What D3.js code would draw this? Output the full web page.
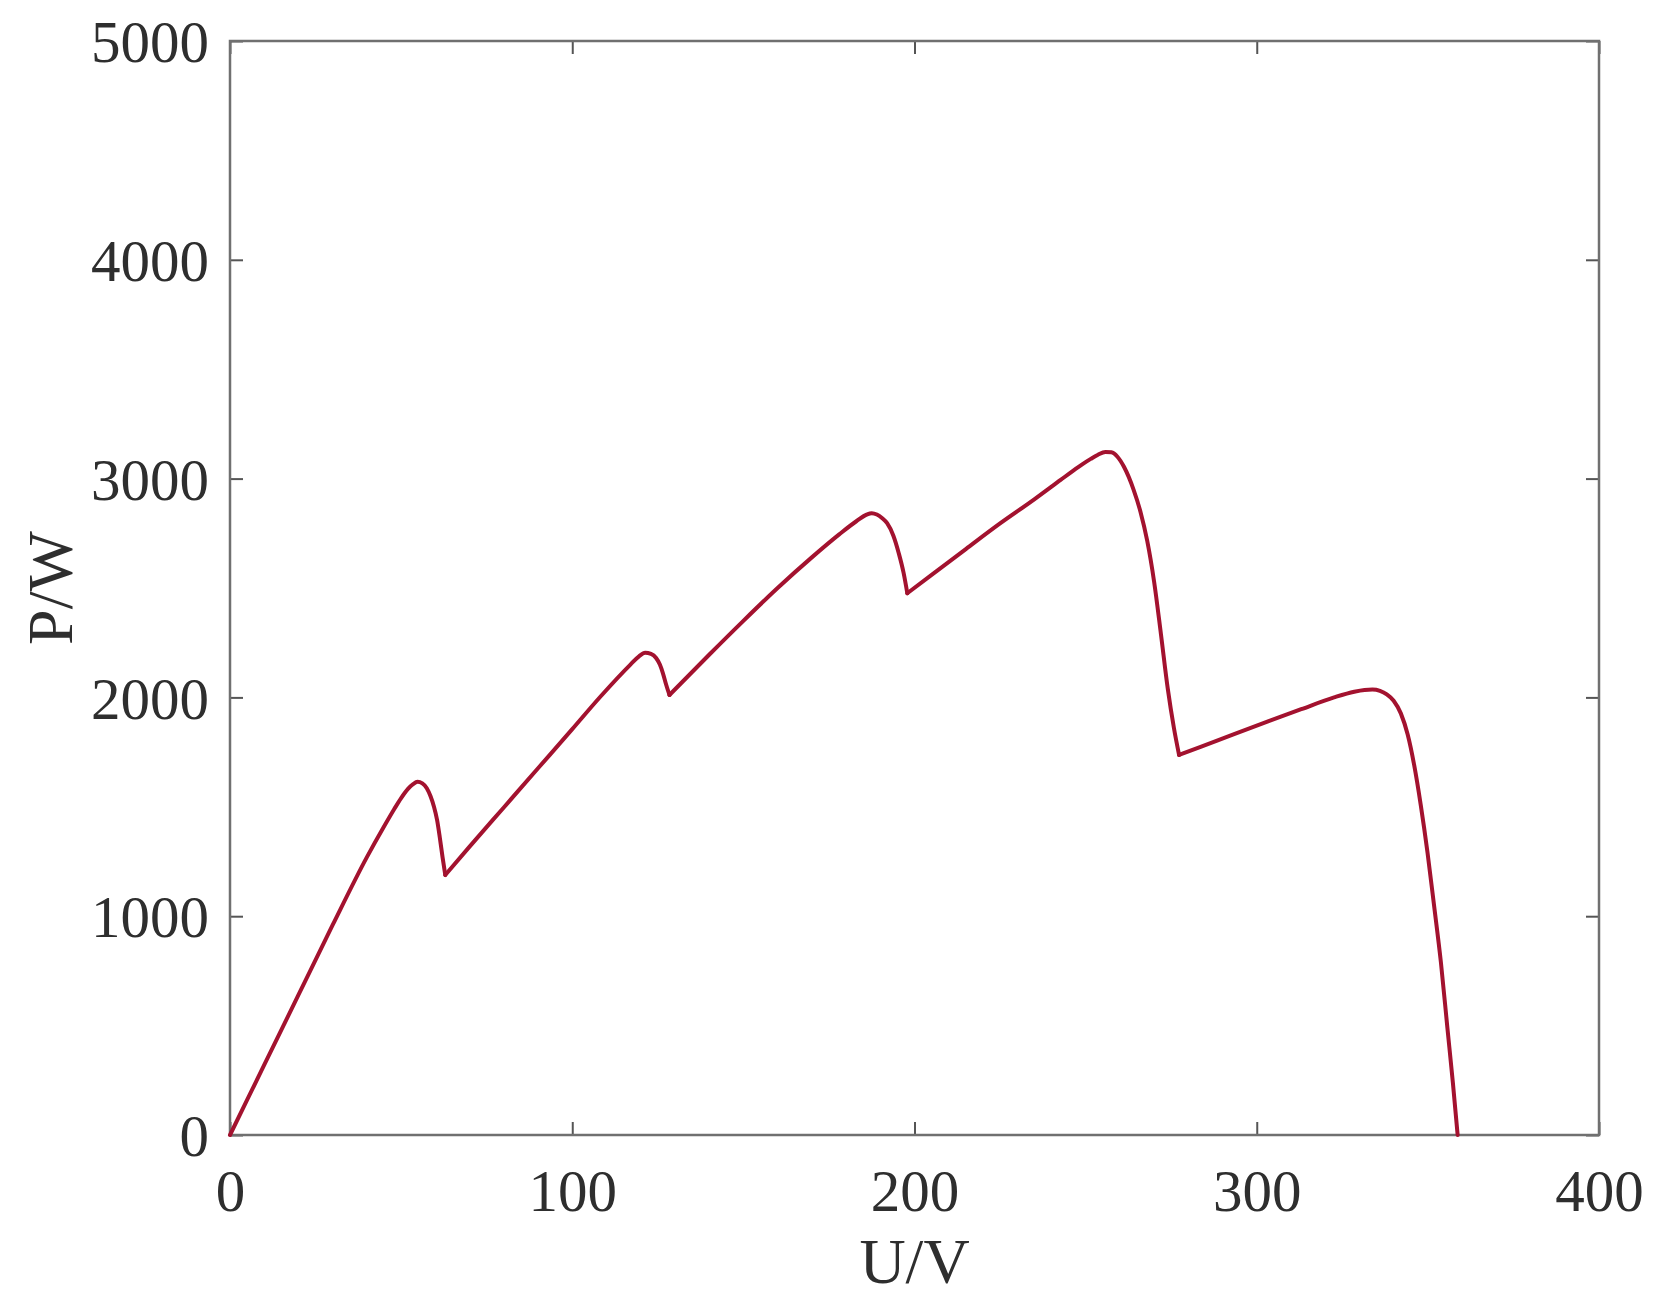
<!DOCTYPE html>
<meta charset="utf-8">
<head>
	<title> P-U curve </title>
	<script src="https://cdn.jsdelivr.net/npm/d3@7"></script>
	<style>
		body { margin: 0; background: #fff; }
		.axis text { font-family: "Liberation Serif", "Times New Roman", serif; font-size: 59px; fill: #2e2e2e; }
		.axis line { stroke: #555; stroke-width: 2; }
		.label { font-family: "Liberation Serif", "Times New Roman", serif; font-size: 64px; fill: #2e2e2e; }
	</style>
</head>
<body>
	<div id="chart"></div>
	<script>

		// data: voltage (V) and power (W)
		var voltage = [0, 10, 20, 30, 40, 45, 48, 50, 52, 53.5, 54.8, 56.2, 57.5, 58.6, 59.6, 60.5, 61.3, 62.1, 62.9,
			70, 80, 90, 100, 108.2, 117, 119.5, 121.3, 123, 124.5, 125.6, 126.5, 127.4, 128.4,
			140, 150, 160, 170, 178, 183, 186, 187.5, 189, 190.5, 192, 193.8, 195.4, 196.8, 197.9,
			205, 215, 225, 235, 242.7, 246, 249, 251.5, 253.5, 255.8, 257.5, 259.3, 261.2, 264, 266, 268, 270, 272, 274, 275.8, 277.3,
			283.6, 293, 303.1, 313, 322.6, 328.5, 331.5, 333.8, 336, 338, 340, 342.1, 344.1, 346, 347.9, 349.9, 351.8, 353.8, 355.7, 357.3, 358.7];
		var power = [0, 320, 640, 960, 1270, 1410, 1490, 1540, 1582, 1604, 1614, 1607, 1585, 1548, 1500, 1440, 1360, 1270, 1188,
			1318, 1497, 1676, 1855, 2003, 2150, 2188, 2204, 2199, 2180, 2150, 2110, 2060, 2011,
			2195, 2350, 2500, 2640, 2745, 2805, 2835, 2842, 2836, 2820, 2796, 2740, 2659, 2570, 2476,
			2560, 2678, 2795, 2905, 2994, 3032, 3065, 3090, 3108, 3122, 3120, 3100, 3054, 2950, 2850, 2715, 2530, 2290, 2040, 1860, 1737,
			1774, 1830, 1889, 1946, 2000, 2026, 2034, 2036, 2030, 2014, 1985, 1927, 1830, 1690, 1510, 1290, 1050, 790, 490, 240, 0];
		// voltages where the curve breaks (bypass diode knees)
		var knees = [0, 62.9, 128.4, 197.9, 277.3, 400];

		var xTicks = [0, 100, 200, 300, 400];
		var yTicks = [0, 1000, 2000, 3000, 4000, 5000];

		// dimensions
		var margin = {top: 41, right: 62, bottom: 172, left: 230};
		var width = 1661 - margin.left - margin.right;
		var height = 1307 - margin.top - margin.bottom;

		var svg = d3.select("#chart")
			.append("svg")
			.attr("width", 1661)
			.attr("height", 1307)
			.append("g")
			.attr("transform", "translate(" + margin.left + "," + margin.top + ")");

		var x = d3.scaleLinear().domain([0, 400]).range([0, width]);
		var y = d3.scaleLinear().domain([0, 5000]).range([height, 0]);
		var fmt = d3.format("d");

		// axes with inward ticks on all four sides
		svg.append("g").attr("class", "axis")
			.attr("transform", "translate(0," + height + ")")
			.call(d3.axisBottom(x).tickValues(xTicks).tickFormat(fmt).tickSizeInner(-13).tickSizeOuter(0).tickPadding(34));
		var gy = svg.append("g").attr("class", "axis")
			.call(d3.axisLeft(y).tickValues(yTicks).tickFormat(fmt).tickSizeInner(-13).tickSizeOuter(0).tickPadding(21));
		gy.selectAll("text").attr("dy", "0.35em");
		svg.append("g").attr("class", "axis")
			.call(d3.axisTop(x).tickValues(xTicks).tickSizeInner(-13).tickSizeOuter(0).tickFormat(""));
		svg.append("g").attr("class", "axis")
			.attr("transform", "translate(" + width + ",0)")
			.call(d3.axisRight(y).tickValues(yTicks).tickSizeInner(-13).tickSizeOuter(0).tickFormat(""));
		svg.selectAll(".axis .domain").remove();

		// frame
		svg.append("rect")
			.attr("width", width)
			.attr("height", height)
			.attr("fill", "none")
			.attr("stroke", "#707070")
			.attr("stroke-width", 2.5);

		// curve, one piece per knee so the corners stay sharp
		var points = voltage.map(function(v, i){ return {u: v, p: power[i]}; });
		var line = d3.line()
			.x(function(d){ return x(d.u); })
			.y(function(d){ return y(d.p); })
			.curve(d3.curveMonotoneX);

		for (var k = 0; k < knees.length - 1; k++) {
			var seg = points.filter(function(d){ return d.u >= knees[k] && d.u <= knees[k + 1]; });
			svg.append("path")
				.datum(seg)
				.attr("d", line)
				.attr("fill", "none")
				.attr("stroke", "#a3122f")
				.attr("stroke-width", 4)
				.attr("stroke-linejoin", "round")
				.attr("stroke-linecap", "round");
		}

		// axis titles
		svg.append("text")
			.attr("class", "label")
			.attr("text-anchor", "middle")
			.attr("x", width / 2)
			.attr("y", height + 148)
			.text("U/V");

		svg.append("text")
			.attr("class", "label")
			.attr("text-anchor", "middle")
			.attr("transform", "translate(" + (72 - margin.left) + "," + (height / 2) + ") rotate(-90)")
			.text("P/W");

	</script>
</body>
</html>
